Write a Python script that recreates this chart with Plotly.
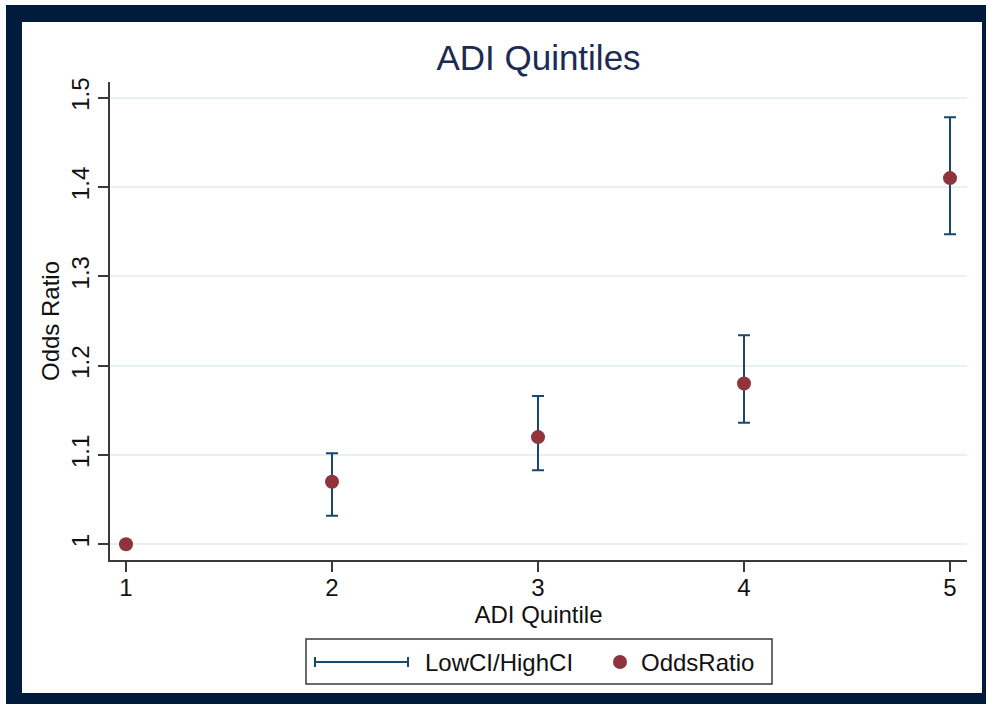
import plotly.graph_objects as go

# ---- data ----
quintiles = [1, 2, 3, 4, 5]
x_tick_labels = ["1", "2", "3", "4", "5"]
odds_ratio = [1.00, 1.07, 1.12, 1.18, 1.41]
low_ci = [None, 1.032, 1.083, 1.136, 1.347]
high_ci = [None, 1.102, 1.166, 1.234, 1.478]
y_tick_vals = [1.0, 1.1, 1.2, 1.3, 1.4, 1.5]
y_tick_labels = ["1", "1.1", "1.2", "1.3", "1.4", "1.5"]

title_text = "ADI Quintiles"
x_title = "ADI Quintile"
y_title = "Odds Ratio"
legend_labels = ["LowCI/HighCI", "OddsRatio"]

# ---- styling ----
W, H = 986, 704
L, R, T, B = 110, 967, 82, 560  # plot area in pixels
FONT = "Liberation Sans, Arial, sans-serif"
FS = 24
NAVY = "#1a476f"
MAROON = "#8f343a"
FRAME = "#011b3c"
TITLE_C = "#1c2b52"
AXIS_C = "#3a3a3a"
GRID_C = "#e7f0f2"


def px_x(p):
    return (p - L) / (R - L)


def px_y(p):
    return (B - p) / (B - T)


err_plus = [None if h is None else h - o for h, o in zip(high_ci, odds_ratio)]
err_minus = [None if lo is None else o - lo for lo, o in zip(low_ci, odds_ratio)]

fig = go.Figure()
fig.add_trace(go.Scatter(
    x=quintiles, y=odds_ratio, mode="markers", name=legend_labels[0],
    marker=dict(size=1, opacity=0),
    error_y=dict(type="data", symmetric=False, array=err_plus,
                 arrayminus=err_minus, color=NAVY, thickness=2, width=6),
    showlegend=False, hoverinfo="skip",
))
fig.add_trace(go.Scatter(
    x=quintiles, y=odds_ratio, mode="markers", name=legend_labels[1],
    marker=dict(size=14, color=MAROON, line=dict(width=0)),
    showlegend=False,
))

shapes = []
# navy frame
for x0, y0, x1, y1 in [(6, 5, 986, 22), (6, 693, 986, 704), (6, 5, 22, 704), (982, 5, 986, 704)]:
    shapes.append(dict(type="rect", xref="paper", yref="paper",
                       x0=px_x(x0), x1=px_x(x1), y0=px_y(y0), y1=px_y(y1),
                       fillcolor=FRAME, line=dict(width=0), layer="above"))
# legend box
shapes.append(dict(type="rect", xref="paper", yref="paper",
                   x0=px_x(306), x1=px_x(772), y0=px_y(639), y1=px_y(684),
                   fillcolor="white", line=dict(color=AXIS_C, width=1.5)))
# legend CI symbol
ly = 662
shapes.append(dict(type="line", xref="paper", yref="paper",
                   x0=px_x(315), x1=px_x(408), y0=px_y(ly), y1=px_y(ly),
                   line=dict(color=NAVY, width=2)))
for cx in (315, 408):
    shapes.append(dict(type="line", xref="paper", yref="paper",
                       x0=px_x(cx), x1=px_x(cx), y0=px_y(ly - 5), y1=px_y(ly + 5),
                       line=dict(color=NAVY, width=2)))
# legend marker symbol
shapes.append(dict(type="circle", xref="paper", yref="paper",
                   x0=px_x(613), x1=px_x(627), y0=px_y(ly - 7), y1=px_y(ly + 7),
                   fillcolor=MAROON, line=dict(width=0)))

annotations = [
    dict(xref="paper", yref="paper", x=px_x(423), y=px_y(ly), text=legend_labels[0],
         showarrow=False, xanchor="left", yanchor="middle",
         font=dict(family=FONT, size=FS, color="#111")),
    dict(xref="paper", yref="paper", x=px_x(639), y=px_y(ly), text=legend_labels[1],
         showarrow=False, xanchor="left", yanchor="middle",
         font=dict(family=FONT, size=FS, color="#111")),
]

fig.update_layout(
    width=W, height=H,
    margin=dict(l=L, r=W - R, t=T, b=H - B, pad=0),
    paper_bgcolor="white", plot_bgcolor="white",
    font=dict(family=FONT, size=FS, color="#111"),
    title=dict(text=title_text, x=0.5, xref="paper", xanchor="center",
               y=1 - 58 / H, yref="container", yanchor="middle",
               font=dict(family=FONT, size=35, color=TITLE_C)),
    showlegend=False,
    shapes=shapes,
    annotations=annotations,
)
fig.update_xaxes(
    range=[0.9223, 5.0825], tickmode="array", tickvals=quintiles, ticktext=x_tick_labels,
    showgrid=False, zeroline=False, showline=True, linecolor=AXIS_C, linewidth=1.5,
    ticks="outside", ticklen=10, tickwidth=1.5, tickcolor=AXIS_C,
    ticklabelstandoff=-5,
    tickfont=dict(family=FONT, size=FS, color="#111"),
    title=dict(text=x_title, standoff=0, font=dict(family=FONT, size=FS, color="#111")),
    automargin=False,
)
fig.update_yaxes(
    range=[0.9824, 1.5176], tickmode="array", tickvals=y_tick_vals, ticktext=y_tick_labels,
    tickangle=-90, showgrid=True, gridcolor=GRID_C, gridwidth=2,
    zeroline=False, showline=True, linecolor=AXIS_C, linewidth=1.5,
    ticks="outside", ticklen=10, tickwidth=1.5, tickcolor=AXIS_C,
    tickfont=dict(family=FONT, size=FS, color="#111"),
    title=dict(text=y_title, standoff=0, font=dict(family=FONT, size=FS, color="#111")),
    automargin=False,
)

fig.write_html("out.html", config={"displayModeBar": False},
               post_script="document.body.style.margin='0';")
